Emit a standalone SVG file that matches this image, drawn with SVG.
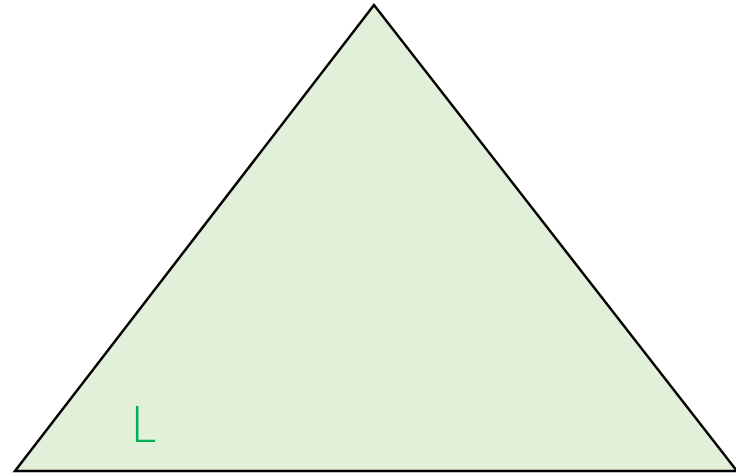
<svg xmlns="http://www.w3.org/2000/svg" width="736" height="476" viewBox="0 0 736 476">
<style>
.tri{fill:#e2efd9;stroke:#000;stroke-width:2.5;stroke-linejoin:miter}
.lbl{font-family:"Open Sans","Liberation Sans",sans-serif;font-weight:300;font-size:49px;fill:#00b050}
</style>
<rect width="736" height="476" fill="#fff"/>
<g id="triangle">
<polygon class="tri" points="374,5 15,471 737,471"/>
<text class="lbl" x="131" y="442">L</text>
</g>
</svg>
